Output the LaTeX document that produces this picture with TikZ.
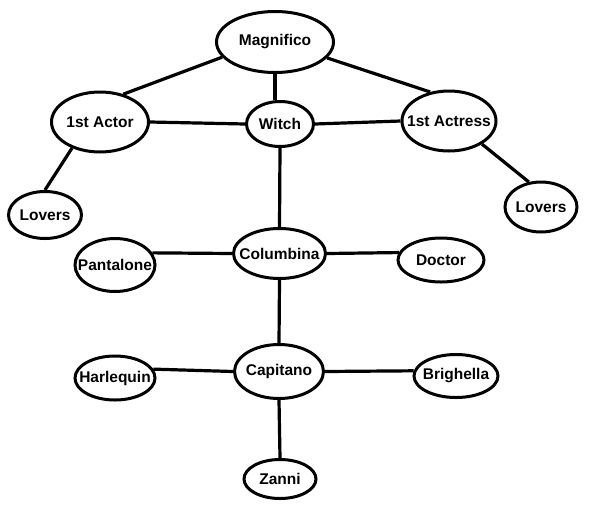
\documentclass[tikz,border=0pt]{standalone}
\usepackage{fontspec}
\setmainfont{Liberation Sans}
\usetikzlibrary{shapes.geometric}
\newcommand\rolelbl[1]{\makebox[0pt]{#1}}
\begin{document}
\begin{tikzpicture}[x=1pt,y=-1pt,
  role/.style={ellipse,draw,line width=3pt,inner sep=0pt,
    font=\fontsize{15.5}{18}\selectfont\bfseries},
  link/.style={line width=3.2pt}]
\useasboundingbox (0,0) rectangle (596,504);
\node[role,minimum width=117pt,minimum height=61pt] (mag) at (275,42) {\rolelbl{Magnifico}};
\node[role,minimum width=97pt,minimum height=60pt] (act) at (100,122) {\rolelbl{1st Actor}};
\node[role,minimum width=67pt,minimum height=45pt] (wit) at (280,124) {\rolelbl{Witch}};
\node[role,minimum width=94pt,minimum height=60pt] (ass) at (449,121) {\rolelbl{1st Actress}};
\node[role,minimum width=73pt,minimum height=47pt] (lovL) at (45,215) {\rolelbl{Lovers}};
\node[role,minimum width=72pt,minimum height=50pt] (lovR) at (541,207) {\rolelbl{Lovers}};
\node[role,minimum width=80pt,minimum height=53pt] (pan) at (115,265) {\rolelbl{Pantalone}};
\node[role,minimum width=92pt,minimum height=50pt] (col) at (279.5,253.5) {\rolelbl{Columbina}};
\node[role,minimum width=86pt,minimum height=44pt] (doc) at (441,260) {\rolelbl{Doctor}};
\node[role,minimum width=89pt,minimum height=54pt] (cap) at (279,371.5) {\rolelbl{Capitano}};
\node[role,minimum width=80pt,minimum height=44pt] (har) at (115,378) {\rolelbl{Harlequin}};
\node[role,minimum width=84pt,minimum height=43pt] (bri) at (456,376) {\rolelbl{Brighella}};
\node[role,minimum width=72pt,minimum height=39pt] (zan) at (280,479) {\rolelbl{Zanni}};
\draw[link] (mag.196) -- (act.50);
\draw[link] (mag.343) -- (ass.123);
\draw[link] (mag.south) -- (mag.south |- wit.north);
\draw[link] (act.east) -- (wit.west);
\draw[link] (wit.east) -- (ass.west);
\draw[link] (act.223) -- (lovL.north);
\draw[link] (ass.325) -- (lovR.116);
\draw[link] (wit.south) -- (col.north);
\draw[link] (pan.18) -- (col.west);
\draw[link] (col.east) -- (doc.170);
\draw[link] (col.south) -- (cap.north);
\draw[link] (har.13) -- (cap.west);
\draw[link] (cap.east) -- (bri.173);
\draw[link] (cap.south) -- (zan.north);
\end{tikzpicture}
\end{document}
